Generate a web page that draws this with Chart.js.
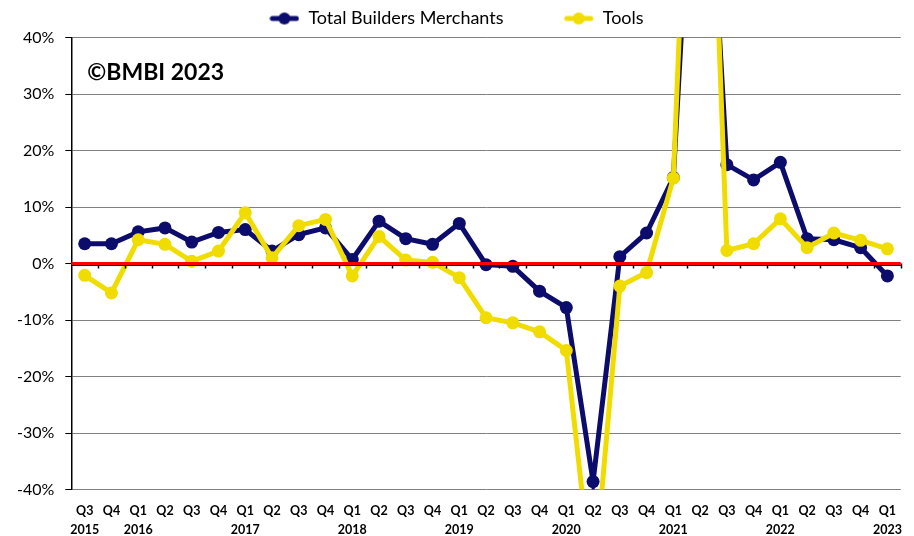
<!DOCTYPE html>
<html>
<head>
<meta charset="utf-8">
<script src="https://cdn.jsdelivr.net/npm/chart.js@4"></script>
<style>
  html, body { margin: 0; padding: 0; background: #fff; }
  #wrap { width: 914px; height: 536px; position: relative; }
</style>
</head>
<body>
<div id="wrap"><canvas id="chart"></canvas></div>
<script>
// quarters, with the year shown under Q1 (and under the first point)
const quarters = ['Q3','Q4','Q1','Q2','Q3','Q4','Q1','Q2','Q3','Q4','Q1','Q2','Q3','Q4','Q1','Q2',
                  'Q3','Q4','Q1','Q2','Q3','Q4','Q1','Q2','Q3','Q4','Q1','Q2','Q3','Q4','Q1'];
const years = ['2015','','2016','','','','2017','','','','2018','','','','2019','',
               '','','2020','','','','2021','','','','2022','','','','2023'];

const totalBM = [3.5, 3.5, 5.6, 6.3, 3.8, 5.5, 6.0, 2.2, 5.1, 6.3, 0.7, 7.5, 4.4, 3.4, 7.1, -0.2,
                 -0.5, -4.9, -7.8, -38.6, 1.2, 5.4, 15.2, 100, 17.5, 14.8, 17.9, 4.4, 4.2, 2.8, -2.2];
const tools = [-2.1, -5.2, 4.2, 3.4, 0.4, 2.2, 9.0, 1.0, 6.7, 7.8, -2.2, 4.8, 0.6, 0.2, -2.5, -9.6,
               -10.5, -12.1, -15.4, -58, -4.0, -1.6, 15.1, 130, 2.3, 3.5, 7.9, 2.8, 5.4, 4.1, 2.6];

const yTicks = [-40, -30, -20, -10, 0, 10, 20, 30, 40];

const NAVY = '#0c0c6c';
const YELLOW = '#f1dc00';
const FONT = 'Lato, "Open Sans", sans-serif';

// little line+dot glyph for the legend
function legendGlyph(color) {
  const c = document.createElement('canvas');
  c.width = 30; c.height = 14;
  const g = c.getContext('2d');
  g.strokeStyle = color; g.lineWidth = 5; g.lineCap = 'round';
  g.beginPath(); g.moveTo(3, 7); g.lineTo(27, 7); g.stroke();
  g.fillStyle = color;
  g.beginPath(); g.arc(15, 7, 6, 0, Math.PI * 2); g.fill();
  return c;
}
const glyphs = [legendGlyph(YELLOW), legendGlyph(NAVY)];

// zero line in red on top of the data, with the category tick marks under it
const zeroLine = {
  id: 'zeroLine',
  afterDatasetsDraw(chart) {
    const { ctx, chartArea, scales } = chart;
    const y0 = scales.y.getPixelForValue(0);
    ctx.save();
    ctx.strokeStyle = '#000'; ctx.lineWidth = 1;
    ctx.beginPath(); ctx.moveTo(chartArea.left, y0 + 2); ctx.lineTo(chartArea.right, y0 + 2); ctx.stroke();
    const n = quarters.length;
    const step = (chartArea.right - chartArea.left) / n;
    ctx.lineWidth = 1.5;
    for (let i = 1; i <= n; i++) {
      const x = Math.round(chartArea.left + i * step) + 0.5;
      ctx.beginPath(); ctx.moveTo(x, y0); ctx.lineTo(x, y0 + 5); ctx.stroke();
    }
    ctx.strokeStyle = '#ff0000'; ctx.lineWidth = 3;
    ctx.beginPath(); ctx.moveTo(chartArea.left, y0); ctx.lineTo(chartArea.right, y0); ctx.stroke();
    ctx.restore();
  },
  afterDraw(chart) {
    const { ctx, chartArea } = chart;
    ctx.save();
    ctx.font = 'bold 23px ' + FONT;
    ctx.fillStyle = '#000';
    ctx.textBaseline = 'middle';
    ctx.fillText('\u00A9BMBI 2023', chartArea.left + 16, 73);
    ctx.restore();
  }
};

new Chart(document.getElementById('chart'), {
  type: 'line',
  data: {
    labels: quarters.map((q, i) => [q, years[i]]),
    datasets: [
      {
        label: 'Tools',
        data: tools,
        borderColor: YELLOW,
        backgroundColor: YELLOW,
        borderWidth: 5,
        pointRadius: 6.5,
        pointBorderWidth: 0,
        pointHoverRadius: 6.5,
        tension: 0,
        clip: 0
      },
      {
        label: 'Total Builders Merchants',
        data: totalBM,
        borderColor: NAVY,
        backgroundColor: NAVY,
        borderWidth: 5,
        pointRadius: 6.5,
        pointBorderWidth: 0,
        pointHoverRadius: 6.5,
        tension: 0,
        clip: 0
      }
    ]
  },
  options: {
    responsive: true,
    maintainAspectRatio: false,
    animation: false,
    layout: { padding: { left: 6, right: 7, top: 0, bottom: -15 } },
    scales: {
      x: {
        offset: true,
        grid: { display: false, drawTicks: false },
        border: { display: false },
        ticks: {
          autoSkip: false,
          maxRotation: 0,
          minRotation: 0,
          color: '#000',
          padding: 12,
          font: { family: FONT, size: 12.5, weight: 'bold', lineHeight: 1.5 }
        }
      },
      y: {
        min: -40,
        max: 40,
        afterBuildTicks: axis => { axis.ticks = yTicks.map(v => ({ value: v })); },
        grid: { color: '#808080', lineWidth: 1, tickLength: 6, tickColor: '#000' },
        border: { display: true, color: '#000', width: 1.5 },
        ticks: {
          color: '#000',
          padding: 11,
          font: { family: FONT, size: 16 },
          callback: v => v + '%'
        }
      }
    },
    plugins: {
      legend: {
        position: 'top',
        reverse: true,
        labels: {
          usePointStyle: true,
          pointStyleWidth: 30,
          color: '#000',
          padding: 9.5,
          font: { family: FONT, size: 18 },
          generateLabels(chart) {
            const items = Chart.defaults.plugins.legend.labels.generateLabels(chart);
            items.forEach(it => {
              it.pointStyle = glyphs[it.datasetIndex];
              if (it.text === 'Total Builders Merchants') it.text += '           ';
            });
            return items;
          }
        }
      },
      tooltip: { enabled: false }
    }
  },
  plugins: [zeroLine]
});
</script>
</body>
</html>
